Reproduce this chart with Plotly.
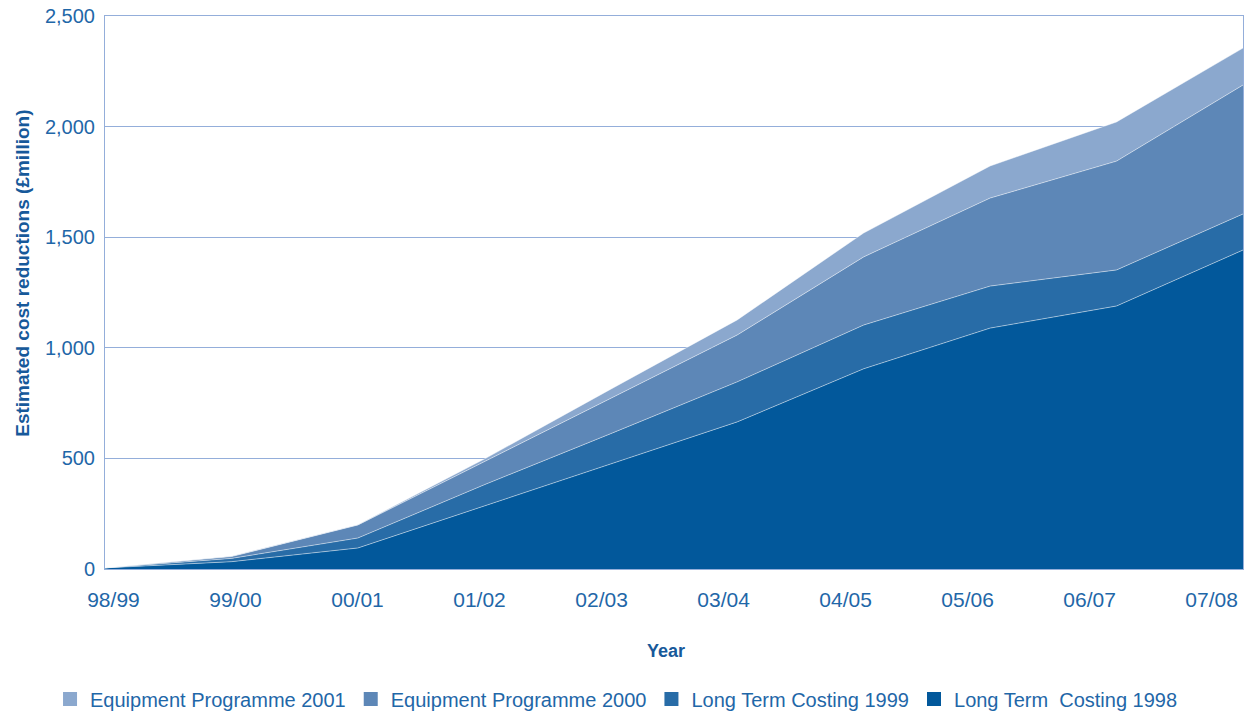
import plotly.graph_objects as go

# Financial years on the horizontal axis
years = ["98/99", "99/00", "00/01", "01/02", "02/03",
         "03/04", "04/05", "05/06", "06/07", "07/08"]

# Estimated cost reductions (£ million) contributed by each initiative
ltc_1998 = [5, 33, 95, 286, 475, 665, 905, 1089, 1189, 1442]
ltc_1999 = [0, 15, 45, 95, 137, 181, 198, 190, 163, 163]
ep_2000 = [0, 8, 59, 104, 158, 212, 308, 398, 492, 583]
ep_2001 = [0, 2, 1, 12, 43, 68, 108, 145, 177, 167]

series_names = ["Long Term  Costing 1998", "Long Term Costing 1999",
                "Equipment Programme 2000", "Equipment Programme 2001"]
series_values = [ltc_1998, ltc_1999, ep_2000, ep_2001]
series_colors = ["#02589B", "#286CA7", "#5D87B7", "#8BA8CE"]

y_ticks = [0, 500, 1000, 1500, 2000, 2500]

TEXT = "#1F67A8"
TITLE = "#17599A"
GRID = "#94AEDA"
FONT = "Liberation Sans, Arial, sans-serif"

x_idx = list(range(len(years)))

fig = go.Figure()

# Stacked areas, bottom layer first
for name, vals, col in zip(series_names, series_values, series_colors):
    fig.add_trace(go.Scatter(
        x=x_idx, y=vals, name=name, mode="lines",
        stackgroup="costs", fillcolor=col,
        line=dict(color="rgba(255,255,255,0.45)", width=1),
        showlegend=False, hoverinfo="x+y+name",
    ))

# Legend keys as small squares, listed top layer first
for name, col in reversed(list(zip(series_names, series_colors))):
    fig.add_trace(go.Scatter(
        x=[None], y=[None], name=name, mode="markers",
        marker=dict(symbol="square", size=14, color=col),
        showlegend=True,
    ))

# Year labels sit on a slightly tighter pitch than the data points
label_start, label_step = 0.067, 0.965
tick_pos = [label_start + label_step * i for i in range(len(years))]

fig.update_layout(
    width=1248, height=711,
    margin=dict(l=105, r=5, t=16, b=142, autoexpand=False),
    paper_bgcolor="white", plot_bgcolor="white",
    font=dict(family=FONT, color=TEXT),
    xaxis=dict(
        range=[0, len(years) - 1], tickmode="array",
        tickvals=tick_pos, ticktext=years,
        tickfont=dict(size=21, color=TEXT),
        showgrid=False, zeroline=False,
        showline=True, linecolor=GRID, linewidth=1, mirror=True,
        ticks="", ticklabelstandoff=12,
    ),
    yaxis=dict(
        range=[0, 2500], tickmode="array", tickvals=y_ticks,
        tickformat=",d",
        tickfont=dict(size=20, color=TEXT),
        showgrid=True, gridcolor=GRID, gridwidth=1, zeroline=False,
        showline=True, linecolor=GRID, linewidth=1, mirror=True,
        ticks="", ticklabelstandoff=5,
    ),
    legend=dict(
        orientation="h", traceorder="normal",
        xref="paper", yref="paper",
        x=-0.0483, y=-0.235, xanchor="left", yanchor="middle",
        font=dict(size=20, color=TEXT, family=FONT),
        bgcolor="rgba(0,0,0,0)", itemclick=False,
    ),
    annotations=[
        dict(text="<b>Year</b>", xref="paper", yref="paper",
             x=0.493, y=-0.148, xanchor="center", yanchor="middle",
             showarrow=False,
             font=dict(size=18, color=TITLE, family=FONT)),
        dict(text="<b>Estimated cost reductions (£million)</b>",
             xref="paper", yref="paper", x=-0.072, y=0.534,
             xanchor="center", yanchor="middle",
             textangle=-90, showarrow=False,
             font=dict(size=19, color=TITLE, family=FONT)),
    ],
)

fig.write_html("out.html")
